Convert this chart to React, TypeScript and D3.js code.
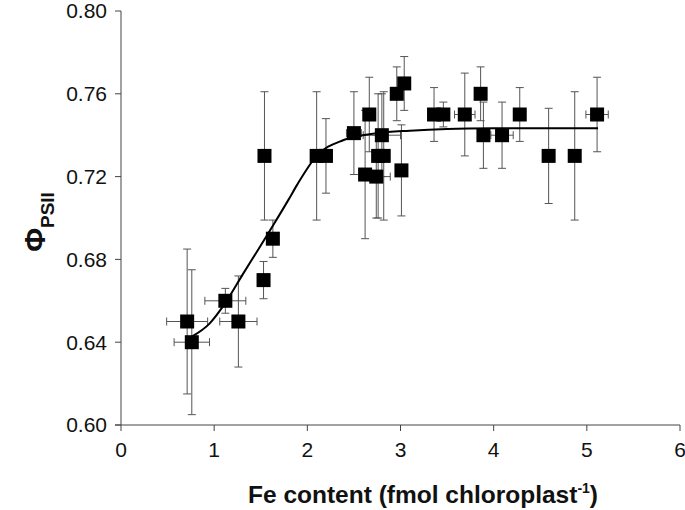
import React from "react";
import * as d3 from "d3";

// measured points (Fe content vs PSII yield), symmetric errors
const feContent = [0.71, 0.76, 1.12, 1.26, 1.53, 1.54, 1.63, 2.1, 2.2, 2.5, 2.62, 2.665, 2.74, 2.76, 2.8, 2.82, 2.96, 3.01, 3.04, 3.36, 3.46, 3.69, 3.86, 3.89, 4.09, 4.28, 4.59, 4.87, 5.11];
const phiPSII = [0.65, 0.64, 0.66, 0.65, 0.67, 0.73, 0.69, 0.73, 0.73, 0.741, 0.721, 0.75, 0.72, 0.73, 0.74, 0.73, 0.76, 0.723, 0.765, 0.75, 0.75, 0.75, 0.76, 0.74, 0.74, 0.75, 0.73, 0.73, 0.75];
const phiErr = [0.035, 0.035, 0.006, 0.022, 0.009, 0.031, 0.009, 0.031, 0.018, 0.02, 0.031, 0.018, 0.02, 0.03, 0.02, 0.031, 0.013, 0.022, 0.013, 0.013, 0.006, 0.02, 0.013, 0.016, 0.016, 0.013, 0.023, 0.031, 0.018];
const feErr = [0.22, 0.19, 0.22, 0.2, 0, 0, 0.06, 0, 0, 0.08, 0, 0, 0.15, 0, 0.2, 0, 0, 0, 0, 0, 0, 0.11, 0, 0, 0.12, 0, 0, 0, 0.12];

// fitted curve
const fitX = [0.76, 0.95, 1.12, 1.31, 1.49, 1.64, 1.8, 1.89, 2.1, 2.39, 2.75, 3.1, 3.5, 4.0, 5.12];
const fitY = [0.6427, 0.649, 0.659, 0.673, 0.686, 0.697, 0.709, 0.716, 0.73, 0.7377, 0.741, 0.7422, 0.743, 0.7433, 0.7434];

const xTicks = [0, 1, 2, 3, 4, 5, 6];
const yTicks = [0.6, 0.64, 0.68, 0.72, 0.76, 0.8];

const W = 685, H = 510;
const FONT = "'Liberation Sans', Arial, sans-serif";

export default function App() {
  const x = d3.scaleLinear().domain([0, 6]).range([121, 680]);
  const y = d3.scaleLinear().domain([0.6, 0.8]).range([425, 11]);

  const line = d3.line<number>()
    .x((d, i) => x(fitX[i]))
    .y(d => y(d))
    .curve(d3.curveMonotoneX);

  const cap = 4;
  const sq = 14;
  const errCol = "#555";

  return (
    <svg width={W} height={H} style={{ position: "absolute", left: 0, top: 0 }} fontFamily={FONT}>
      <rect width={W} height={H} fill="#fff" />
      {/* axes */}
      <g stroke="#444" strokeWidth={1} fill="none">
        <line x1={x(0)} x2={x(0)} y1={y(0.8)} y2={y(0.6)} />
        <line x1={x(0) - 6} x2={x(6)} y1={y(0.6)} y2={y(0.6)} />
        {yTicks.map(t => <line key={"yt" + t} x1={x(0) - 6} x2={x(0)} y1={y(t)} y2={y(t)} />)}
        {xTicks.map(t => <line key={"xt" + t} x1={x(t)} x2={x(t)} y1={y(0.6)} y2={y(0.6) + 6} />)}
      </g>
      <g fontSize={21} fill="#111">
        {yTicks.map(t => (
          <text key={"yl" + t} x={x(0) - 14} y={y(t)} dy="0.35em" textAnchor="end">{d3.format(".2f")(t)}</text>
        ))}
        {xTicks.map(t => (
          <text key={"xl" + t} x={x(t)} y={y(0.6) + 32} textAnchor="middle">{t}</text>
        ))}
      </g>
      {/* error bars */}
      <g stroke={errCol} strokeWidth={1}>
        {feContent.map((fx, i) => {
          const cx = x(fx), cy = y(phiPSII[i]);
          const top = y(phiPSII[i] + phiErr[i]), bot = y(phiPSII[i] - phiErr[i]);
          const els = [
            <line key="v" x1={cx} x2={cx} y1={top} y2={bot} />,
            <line key="t" x1={cx - cap} x2={cx + cap} y1={top} y2={top} />,
            <line key="b" x1={cx - cap} x2={cx + cap} y1={bot} y2={bot} />,
          ];
          if (feErr[i] > 0) {
            const l = x(fx - feErr[i]), r = x(fx + feErr[i]);
            els.push(
              <line key="h" x1={l} x2={r} y1={cy} y2={cy} />,
              <line key="l" x1={l} x2={l} y1={cy - cap} y2={cy + cap} />,
              <line key="r" x1={r} x2={r} y1={cy - cap} y2={cy + cap} />
            );
          }
          return <g key={i}>{els}</g>;
        })}
      </g>
      {/* fitted curve */}
      <path d={line(fitY) || ""} fill="none" stroke="#000" strokeWidth={2} />
      {/* points */}
      <g fill="#000">
        {feContent.map((fx, i) => (
          <rect key={i} x={x(fx) - sq / 2} y={y(phiPSII[i]) - sq / 2} width={sq} height={sq} />
        ))}
      </g>
      {/* axis titles */}
      <text x={423} y={503} textAnchor="middle" fontSize={24.5} fontWeight="bold" fill="#111">
        Fe content (fmol chloroplast<tspan dy={-10} fontSize={14}>-1</tspan><tspan dy={10}>)</tspan>
      </text>
      <text transform="translate(45,222) rotate(-90)" textAnchor="middle" fontWeight="bold" fill="#111">
        <tspan fontSize={29}>Φ</tspan><tspan fontSize={19} dy={9}>PSII</tspan>
      </text>
    </svg>
  );
}
